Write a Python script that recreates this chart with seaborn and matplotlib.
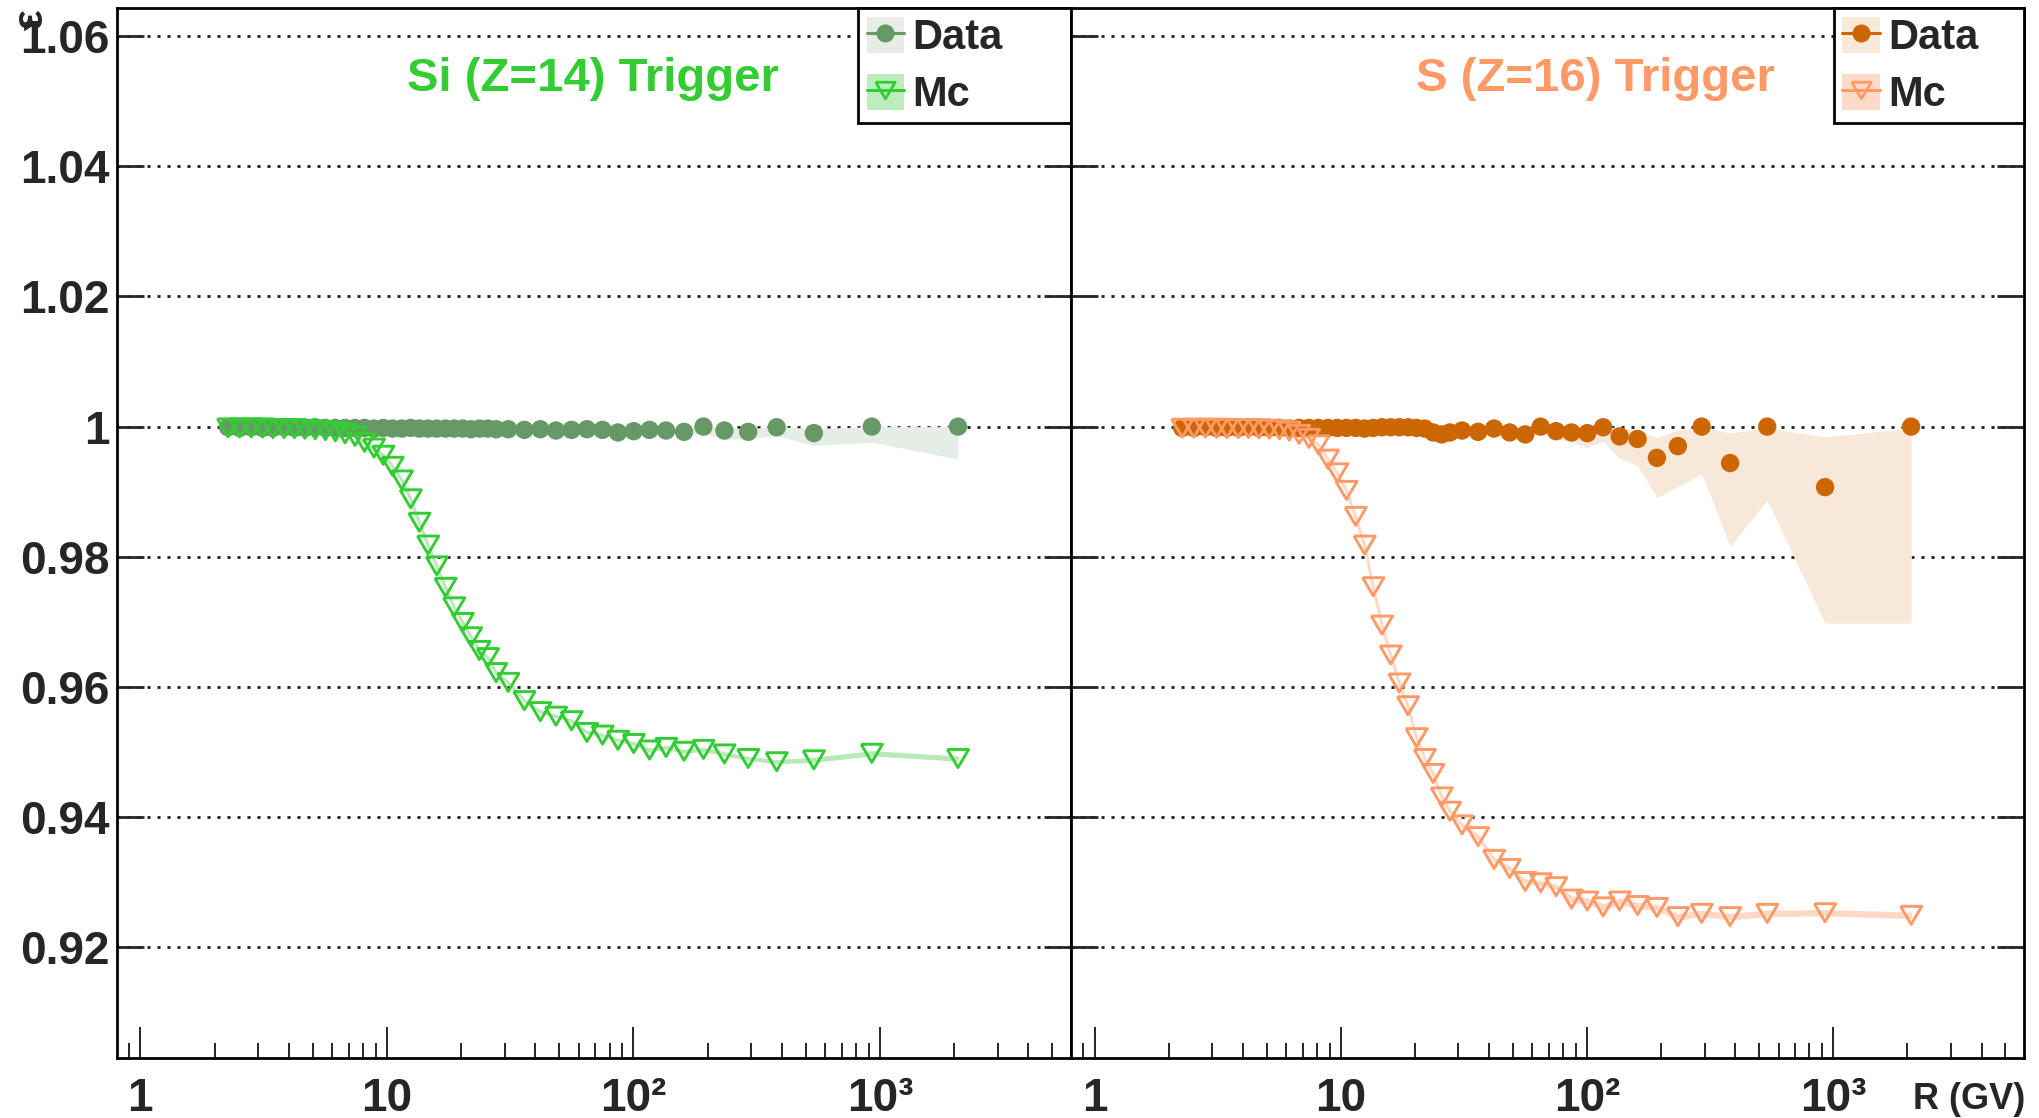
import numpy as np
import pandas as pd
import matplotlib
matplotlib.use("Agg")
import matplotlib.pyplot as plt
from matplotlib.lines import Line2D
from matplotlib.patches import Patch
from matplotlib.ticker import LogLocator, NullLocator, NullFormatter
import seaborn as sns

# ---------------- data ----------------
rigidity = [2.27, 2.53, 2.82, 3.13, 3.45, 3.83, 4.22, 4.65, 5.12, 5.63,
            6.18, 6.77, 7.42, 8.11, 8.86, 9.67, 10.54, 11.49, 12.49, 13.54,
            14.69, 15.94, 17.29, 18.74, 20.30, 21.93, 23.73, 25.68, 27.73, 31.06,
            36.1, 41.9, 48.5, 56.1, 64.8, 74.9, 86.5, 100.2, 116.2, 135.6,
            160.4, 192.2, 233.8, 292.0, 381.0, 539.0, 926.0, 2071.0]

si_data = [0.9999, 0.9998, 0.9999, 0.9998, 0.9998, 0.9999, 0.9998, 0.9998, 0.9999, 0.9998,
           0.9998, 0.9998, 0.9998, 0.9998, 0.9997, 0.9998, 0.9997, 0.9997, 0.9998, 0.9997,
           0.9997, 0.9997, 0.9997, 0.9997, 0.9997, 0.9996, 0.9997, 0.9997, 0.9996, 0.9996,
           0.9995, 0.9996, 0.9994, 0.9995, 0.9996, 0.9995, 0.9991, 0.9993, 0.9995, 0.9994,
           0.9992, 1.0000, 0.9994, 0.9992, 0.9999, 0.9990, 1.0000, 1.0000]
si_data_lo = [0.9998, 0.9997, 0.9998, 0.9997, 0.9997, 0.9998, 0.9997, 0.9997, 0.9998, 0.9997,
              0.9997, 0.9997, 0.9997, 0.9997, 0.9996, 0.9997, 0.9996, 0.9996, 0.9997, 0.9996,
              0.9996, 0.9996, 0.9996, 0.9996, 0.9996, 0.9995, 0.9996, 0.9996, 0.9994, 0.9994,
              0.9993, 0.9994, 0.9991, 0.9992, 0.9993, 0.9992, 0.9988, 0.9990, 0.9991, 0.9990,
              0.9988, 0.9990, 0.9980, 0.9982, 0.9986, 0.9971, 0.9976, 0.9950]
si_data_hi = [1.0000, 0.9999, 1.0000, 0.9999, 0.9999, 1.0000, 0.9999, 0.9999, 1.0000, 0.9999,
              0.9999, 0.9999, 0.9999, 0.9999, 0.9998, 0.9999, 0.9998, 0.9998, 0.9999, 0.9998,
              0.9998, 0.9998, 0.9998, 0.9998, 0.9998, 0.9997, 0.9998, 0.9998, 0.9997, 0.9998,
              0.9997, 0.9998, 0.9997, 0.9998, 0.9999, 0.9998, 0.9995, 0.9997, 0.9999, 0.9998,
              0.9997, 1.0000, 0.9998, 0.9997, 1.0000, 0.9997, 1.0000, 1.0000]
si_mc = [0.9998, 0.9998, 0.9998, 0.9998, 0.9997, 0.9997, 0.9997, 0.9996, 0.9995, 0.9994,
         0.9992, 0.9989, 0.9985, 0.9976, 0.9967, 0.9956, 0.9939, 0.9918, 0.9889, 0.9853,
         0.9818, 0.9786, 0.9753, 0.9723, 0.9699, 0.9677, 0.9656, 0.9645, 0.9622, 0.9607,
         0.9579, 0.9562, 0.9555, 0.9548, 0.9530, 0.9526, 0.9518, 0.9513, 0.9503, 0.9507,
         0.9501, 0.9504, 0.9497, 0.9490, 0.9485, 0.9488, 0.9498, 0.9490]
si_mc_err = [0.0001, 0.0001, 0.0001, 0.0001, 0.0001, 0.0001, 0.0001, 0.0001, 0.0001, 0.0001,
             0.0001, 0.0001, 0.0001, 0.0001, 0.0001, 0.0001, 0.0001, 0.0001, 0.0001, 0.0001,
             0.0001, 0.0001, 0.0001, 0.0001, 0.0002, 0.0002, 0.0002, 0.0002, 0.0002, 0.0002,
             0.0002, 0.0002, 0.0002, 0.0002, 0.0002, 0.0002, 0.0002, 0.0003, 0.0003, 0.0003,
             0.0003, 0.0003, 0.0003, 0.0003, 0.0003, 0.0004, 0.0004, 0.0004]

s_data = [0.9998, 0.9998, 0.9999, 0.9998, 0.9998, 0.9998, 0.9999, 0.9998, 0.9998, 0.9998,
          0.9997, 0.9998, 0.9998, 0.9998, 0.9998, 0.9998, 0.9998, 0.9998, 0.9997, 0.9998,
          0.9999, 0.9999, 0.9999, 0.9999, 0.9998, 0.9997, 0.9991, 0.9988, 0.9991, 0.9994,
          0.9992, 0.9997, 0.9991, 0.9988, 1.0000, 0.9993, 0.9991, 0.9990, 0.9999, 0.9985,
          0.9981, 0.9952, 0.9970, 1.0000, 0.9944, 1.0000, 0.9907, 1.0000]
s_data_lo = [0.9997, 0.9997, 0.9998, 0.9997, 0.9997, 0.9997, 0.9998, 0.9997, 0.9997, 0.9997,
             0.9996, 0.9997, 0.9997, 0.9997, 0.9997, 0.9997, 0.9997, 0.9997, 0.9996, 0.9997,
             0.9998, 0.9998, 0.9998, 0.9998, 0.9997, 0.9995, 0.9987, 0.9985, 0.9988, 0.9991,
             0.9988, 0.9993, 0.9986, 0.9981, 0.9990, 0.9982, 0.9976, 0.9968, 0.9977, 0.9951,
             0.9940, 0.9891, 0.9908, 0.9928, 0.9816, 0.9887, 0.9698, 0.9698]
s_data_hi = [0.9999, 0.9999, 1.0000, 0.9999, 0.9999, 0.9999, 1.0000, 0.9999, 0.9999, 0.9999,
             0.9998, 0.9999, 0.9999, 0.9999, 0.9999, 0.9999, 0.9999, 0.9999, 0.9998, 0.9999,
             1.0000, 1.0000, 1.0000, 1.0000, 0.9999, 0.9999, 0.9994, 0.9991, 0.9994, 0.9997,
             0.9996, 1.0000, 0.9996, 0.9995, 1.0000, 1.0000, 0.9999, 0.9999, 1.0000, 0.9998,
             0.9995, 0.9983, 0.9995, 0.9999, 0.9990, 0.9998, 0.9984, 0.9998]
s_mc = [0.99975, 0.99975, 0.99975, 0.99975, 0.9997, 0.9997, 0.9997, 0.99965, 0.9996, 0.9995,
        0.9993, 0.9988, 0.9982, 0.9972, 0.9950, 0.9929, 0.9902, 0.9862, 0.9818, 0.9754,
        0.9695, 0.9649, 0.9606, 0.9571, 0.9522, 0.9490, 0.9467, 0.9431, 0.9409, 0.9388,
        0.9370, 0.9335, 0.9321, 0.9301, 0.9299, 0.9293, 0.9274, 0.9271, 0.9262, 0.9271,
        0.9264, 0.9261, 0.9247, 0.9252, 0.9247, 0.9252, 0.9253, 0.9249]
s_mc_err = [0.0001, 0.0001, 0.0001, 0.0001, 0.0001, 0.0001, 0.0001, 0.0001, 0.0001, 0.0001,
            0.0001, 0.0001, 0.0001, 0.0001, 0.0001, 0.0001, 0.0001, 0.0001, 0.0001, 0.0001,
            0.0002, 0.0002, 0.0002, 0.0002, 0.0003, 0.0003, 0.0003, 0.0003, 0.0003, 0.0004,
            0.0004, 0.0004, 0.0004, 0.0004, 0.0004, 0.0004, 0.0005, 0.0005, 0.0005, 0.0005,
            0.0005, 0.0005, 0.0005, 0.0005, 0.0005, 0.0005, 0.0005, 0.0005]

y_ticks = [0.92, 0.94, 0.96, 0.98, 1.00, 1.02, 1.04, 1.06]
y_tick_labels = ["0.92", "0.94", "0.96", "0.98", "1", "1.02", "1.04", "1.06"]
x_ticks = [1, 10, 100, 1000]
x_tick_labels = ["1", "10", "10\u00b2", "10\u00b3"]

panel_titles = ["Si (Z=14) Trigger", "S (Z=16) Trigger"]
legend_labels = ["Data", "Mc"]

# ---------------- style ----------------
sns.set_theme(style="ticks")
plt.rcParams["font.family"] = ["Liberation Sans", "DejaVu Sans"]
plt.rcParams["font.weight"] = "bold"
plt.rcParams["axes.linewidth"] = 2.0
plt.rcParams["axes.edgecolor"] = "black"

tri_down = [(-1.0, 0.85), (1.0, 0.85), (0.0, -0.85), (-1.0, 0.85)]

fig = plt.figure(figsize=(20.39, 11.18), dpi=100)
axL = fig.add_axes([0.05723, 0.05367, 0.46803, 0.93891])
axR = fig.add_axes([0.52526, 0.05367, 0.46738, 0.93891], sharey=axL)

panels = [
    dict(ax=axL, data=si_data, lo=si_data_lo, hi=si_data_hi, mc=si_mc, mc_err=si_mc_err,
         c_data="#669966", c_band="#e6ede6", c_mc="#33cc33", c_mcband="#b9e9b9",
         c_mcleg="#bbeebb", c_title="#33cc33", title=panel_titles[0], tx=0.499, lx0=0.777),
    dict(ax=axR, data=s_data, lo=s_data_lo, hi=s_data_hi, mc=s_mc, mc_err=s_mc_err,
         c_data="#cc6600", c_band="#f8e8d9", c_mc="#ff9966", c_mcband="#ffd8c6",
         c_mcleg="#ffd9c8", c_title="#ff9966", title=panel_titles[1], tx=0.550, lx0=0.8006),
]

for p in panels:
    ax = p["ax"]
    df = pd.DataFrame({"R": rigidity, "data": p["data"], "lo": p["lo"], "hi": p["hi"],
                       "mc": p["mc"], "mc_err": p["mc_err"]})
    df["mc_lo"] = df["mc"] - df["mc_err"]
    df["mc_hi"] = df["mc"] + df["mc_err"]

    ax.set_xscale("log")
    ax.fill_between(df["R"], df["lo"], df["hi"], color=p["c_band"], lw=0, zorder=1)
    ax.fill_between(df["R"], df["mc_lo"], df["mc_hi"], color=p["c_mcband"], lw=0, zorder=1.5)
    sns.lineplot(data=df, x="R", y="mc", ax=ax, color=p["c_mcband"], lw=2.2,
                 estimator=None, sort=False, zorder=2, legend=False)
    sns.scatterplot(data=df, x="R", y="data", ax=ax, color=p["c_data"], s=175,
                    marker="o", edgecolor="none", linewidth=0, zorder=3, legend=False)
    sns.scatterplot(data=df, x="R", y="mc", ax=ax, marker=tri_down, s=235,
                    facecolor="none", edgecolor=p["c_mc"], linewidth=2.1, zorder=4, legend=False)

    ax.set_xlim(0.802, 5950)
    ax.set_ylim(0.90298, 1.06428)
    ax.set_xlabel("")
    ax.set_ylabel("")
    ax.set_facecolor("white")
    for s in ax.spines.values():
        s.set_visible(True)
        s.set_linewidth(2.0)
        s.set_color("black")

    ax.set_xticks(x_ticks)
    ax.set_xticklabels(x_tick_labels)
    ax.xaxis.set_minor_locator(LogLocator(base=10, subs=[2, 3, 4, 5, 6, 7, 8, 9], numticks=30))
    ax.xaxis.set_minor_formatter(NullFormatter())
    ax.set_yticks(y_ticks)
    ax.yaxis.set_minor_locator(NullLocator())

    ax.tick_params(axis="x", which="major", direction="in", length=22, width=1.4,
                   top=False, bottom=True, pad=14, labelsize=33)
    ax.tick_params(axis="x", which="minor", direction="in", length=11, width=1.4,
                   top=False, bottom=True)
    ax.tick_params(axis="y", which="major", direction="in", length=19.5, width=2.0,
                   left=True, right=True, pad=5, labelsize=33)

    ax.yaxis.grid(True, color="#1e1e1e", linewidth=2.0, linestyle=(0, (1.1, 2.5)))
    ax.xaxis.grid(False)
    ax.set_axisbelow(True)

    ax.text(p["tx"], 0.921, p["title"], transform=ax.transAxes, ha="center", va="baseline",
            color=p["c_title"], fontsize=34, fontweight="bold")

    h_data = (Patch(facecolor=p["c_band"], edgecolor="none"),
              Line2D([], [], color=p["c_data"], lw=2.2, marker="o", ms=13, mec="none"))
    h_mc = (Patch(facecolor=p["c_mcleg"], edgecolor="none"),
            Line2D([], [], color=p["c_mc"], lw=2.2, marker=tri_down, ms=14,
                   mfc="none", mec=p["c_mc"], mew=2.0))
    leg = ax.legend([h_data, h_mc], legend_labels, loc="upper right",
                    bbox_to_anchor=(p["lx0"], 0.0, 1.0 - p["lx0"], 1.0), mode="expand",
                    borderaxespad=0.0, frameon=True, fancybox=False, framealpha=1.0,
                    edgecolor="black", fontsize=30, handlelength=0.9, handleheight=0.95,
                    handletextpad=0.2, labelspacing=0.38, borderpad=0.2)
    leg.get_frame().set_linewidth(2.0)
    leg.set_zorder(10)

axL.set_yticklabels(y_tick_labels)
axR.tick_params(axis="y", labelleft=False)

fig.text(0.0150, 0.984, "\u03b5", rotation=90, ha="center", va="center",
         fontsize=30, fontweight="bold")
fig.text(0.9931, 0.008, "R (GV)", ha="right", va="baseline", fontsize=26, fontweight="bold")

fig.savefig("out.png", dpi=100)
